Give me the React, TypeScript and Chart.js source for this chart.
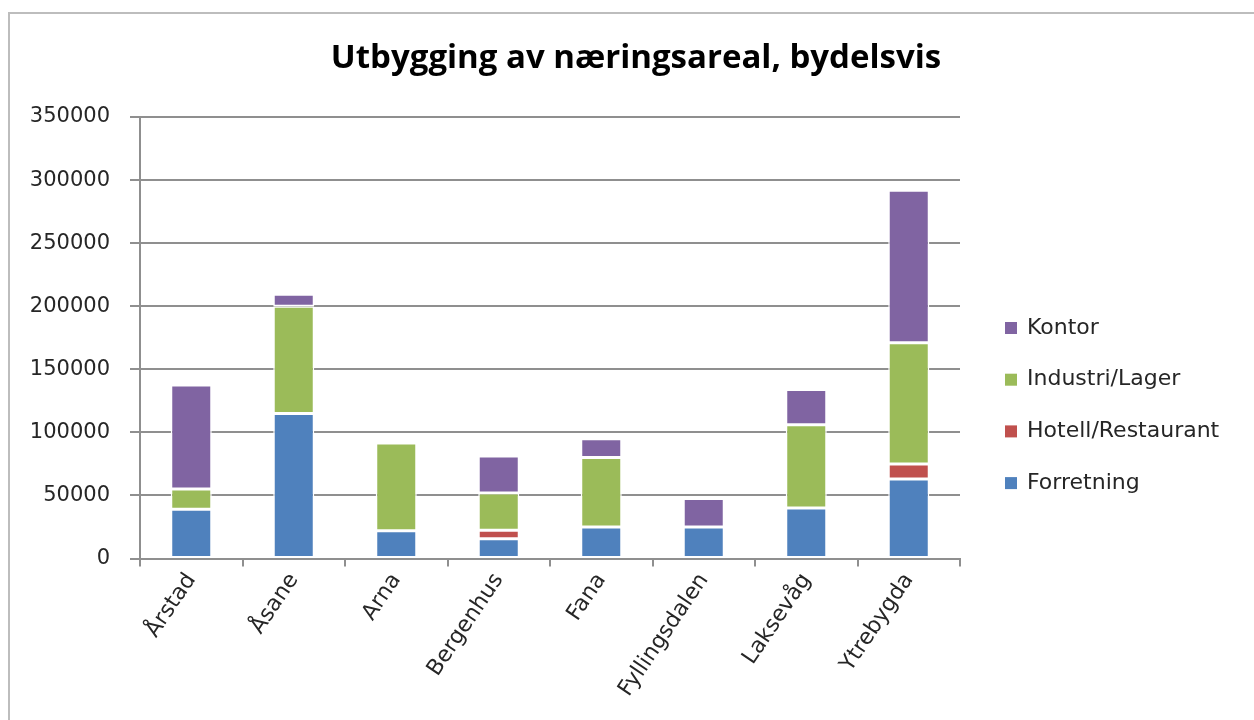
import React, { useEffect, useRef } from "react";
import { Chart, registerables } from "chart.js";

Chart.register(...registerables);

const TITLE = "Utbygging av næringsareal, bydelsvis";
const categories = ["Årstad", "Åsane", "Arna", "Bergenhus", "Fana", "Fyllingsdalen", "Laksevåg", "Ytrebygda"];
const forretning = [39000, 115000, 22000, 15700, 25000, 25000, 40000, 63000];
const hotellRestaurant = [0, 0, 0, 6600, 0, 0, 0, 12000];
const industriLager = [16000, 85000, 69500, 29600, 55000, 0, 66000, 96000];
const kontor = [82500, 9500, 0, 29400, 15000, 22500, 28000, 121000];
const yTicks = [0, 50000, 100000, 150000, 200000, 250000, 300000, 350000];

const COLORS = {
  forretning: "#4F81BD",
  hotell: "#C0504D",
  industri: "#9BBB59",
  kontor: "#8064A2",
};

const GRID = "#8f8f8f";
const TEXT = "#262626";

const frameAndLegend = {
  id: "frameAndLegend",
  beforeDraw(chart: any) {
    const ctx = chart.ctx;
    ctx.save();
    ctx.fillStyle = "#ffffff";
    ctx.fillRect(0, 0, chart.width, chart.height);
    ctx.strokeStyle = "#bdbdbd";
    ctx.lineWidth = 2;
    ctx.beginPath();
    ctx.moveTo(9, chart.height);
    ctx.lineTo(9, 13);
    ctx.lineTo(chart.width, 13);
    ctx.stroke();
    ctx.restore();
  },
  afterDraw(chart: any) {
    const ctx = chart.ctx;
    const area = chart.chartArea;
    const ds = chart.data.datasets.slice().reverse();
    const x0 = area.right + 45;
    const y0 = area.top + 211;
    const step = 51.7;
    ctx.save();
    ctx.font = "22px 'DejaVu Sans'";
    ctx.textBaseline = "middle";
    ctx.textAlign = "left";
    ds.forEach((d: any, i: number) => {
      const y = y0 + i * step;
      ctx.fillStyle = d.backgroundColor;
      ctx.fillRect(x0, y - 6, 12, 12);
      ctx.fillStyle = TEXT;
      ctx.fillText(d.label, x0 + 22, y);
    });
    ctx.restore();
  },
};

export default function App() {
  const ref = useRef<HTMLCanvasElement | null>(null);

  useEffect(() => {
    if (!ref.current) return;
    const mk = (label: string, data: number[], color: string) => ({
      label,
      data,
      backgroundColor: color,
      borderColor: "#ffffff",
      borderWidth: 1.5,
      borderSkipped: false,
      barPercentage: 0.4,
      categoryPercentage: 1,
    });
    const chart = new Chart(ref.current, {
      type: "bar",
      data: {
        labels: categories,
        datasets: [
          mk("Forretning", forretning, COLORS.forretning),
          mk("Hotell/Restaurant", hotellRestaurant, COLORS.hotell),
          mk("Industri/Lager", industriLager, COLORS.industri),
          mk("Kontor", kontor, COLORS.kontor),
        ],
      },
      options: {
        responsive: false,
        animation: false,
        layout: { padding: { left: 18, right: 0, top: 0, bottom: 0 } },
        plugins: {
          legend: { display: false },
          tooltip: { enabled: false },
          title: {
            display: true,
            text: TITLE,
            color: "#000000",
            font: { family: "'Open Sans'", size: 33, weight: "bold", lineHeight: 1.2 },
            padding: { top: 39, bottom: 38.4 },
          },
        },
        scales: {
          x: {
            stacked: true,
            grid: {
              display: true,
              drawOnChartArea: false,
              drawTicks: true,
              tickLength: 8,
              offset: true,
              color: GRID,
              lineWidth: 2,
            },
            border: { display: true, color: GRID, width: 2 },
            ticks: {
              color: TEXT,
              font: { family: "'DejaVu Sans'", size: 22 },
              minRotation: 56,
              maxRotation: 56,
              padding: 2,
              autoSkip: false,
            },
            afterFit(s: any) {
              s.height = 161.5;
            },
          },
          y: {
            stacked: true,
            min: 0,
            max: 350000,
            afterBuildTicks(s: any) {
              s.ticks = yTicks.map((v) => ({ value: v }));
            },
            grid: {
              color: GRID,
              lineWidth: 2,
              drawTicks: true,
              tickLength: 10,
            },
            border: { display: true, color: GRID, width: 2 },
            ticks: {
              color: TEXT,
              font: { family: "'DejaVu Sans'", size: 21 },
              padding: 20,
              callback: (v: any) => String(v),
            },
            afterFit(s: any) {
              s.width = 122;
            },
          },
          yRight: {
            type: "linear",
            position: "right",
            display: true,
            grid: { display: false, drawTicks: false },
            border: { display: false },
            ticks: { display: false },
            afterFit(s: any) {
              s.width = 294;
            },
          },
        },
      } as any,
      plugins: [frameAndLegend],
    });
    return () => chart.destroy();
  }, []);

  return (
    <div style={{ position: "fixed", left: 0, top: 0, width: 1254, height: 720, background: "#fff" }}>
      <canvas ref={ref} width={1254} height={720} style={{ display: "block" }} />
    </div>
  );
}
